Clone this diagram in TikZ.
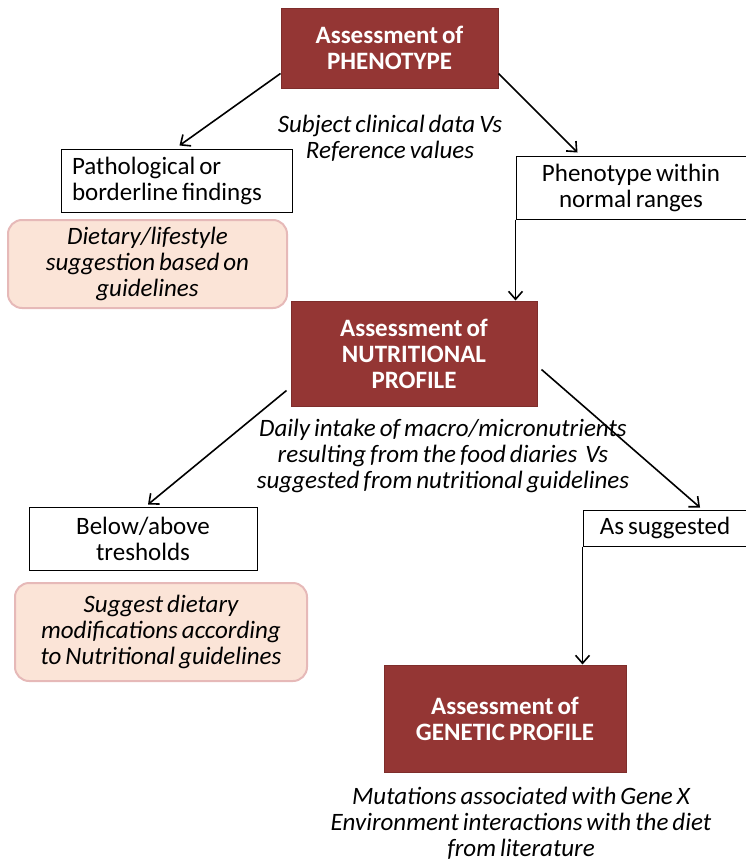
\documentclass[tikz,border=0pt]{standalone}
\usepackage{fontspec}
\setmainfont{Carlito}
\usetikzlibrary{arrows.meta,calc}

\definecolor{boxred}{HTML}{943634}
\definecolor{boxredline}{HTML}{7E2D2B}
\definecolor{peachfill}{HTML}{FBE4D7}
\definecolor{peachline}{HTML}{E6B9B8}

\newcommand{\diagfont}{\fontsize{25}{26}\selectfont\spaceskip=0.16em\relax}

\tikzset{
  assess/.style={draw=boxredline, line width=1pt, fill=boxred, text=white,
    font=\diagfont\bfseries, align=center, inner sep=0pt},
  outcome/.style={draw=black, line width=1pt, fill=white,
    font=\diagfont, align=center, inner sep=0pt},
  advice/.style={draw=peachline, line width=2pt, fill=peachfill, rounded corners=14pt,
    font=\diagfont\itshape, align=center, inner sep=0pt},
  note/.style={font=\diagfont\itshape, align=center, inner sep=0pt},
  arr/.style={-{Straight Barb[length=8pt,width=14pt]}, line width=1.6pt}
}

\begin{document}
\begin{tikzpicture}[x=1pt,y=1pt]

  \useasboundingbox (0,0) rectangle (745,-862);

  % Phenotype
  \node[assess, minimum width=217, minimum height=80] (pheno) at (389.5,-48)
    {Assessment of\\PHENOTYPE};
  \node[note] (subj) at (390,-138) {Subject clinical data Vs\\Reference values};

  \node[outcome, minimum width=231, minimum height=63, text width=209, align=flush left] (patho) at (176.5,-180.5)
    {Pathological or\\borderline findings};
  \node[advice, minimum width=279, minimum height=88] (diet) at (147.5,-264)
    {Dietary/lifestyle\\suggestion based on\\guidelines};
  \node[outcome, minimum width=230, minimum height=63] (normal) at (631,-187.5)
    {Phenotype within\\normal ranges};

  % Nutritional profile
  \node[assess, minimum width=246, minimum height=105] (nutri) at (414,-353.5)
    {Assessment of\\NUTRITIONAL\\PROFILE};
  \node[note] (daily) at (443,-456)
    {Daily intake of macro/micronutrients\\resulting from the food diaries\ \ Vs\\suggested from nutritional guidelines};

  \node[outcome, minimum width=228, minimum height=63] (below) at (143,-538.5)
    {Below/above\\tresholds};
  \node[advice, minimum width=292, minimum height=98] (modif) at (161,-632)
    {Suggest dietary\\modifications according\\to Nutritional guidelines};
  \node[outcome, minimum width=164, minimum height=36] (assug) at (665,-528)
    {As suggested};

  % Genetic profile
  \node[assess, minimum width=242, minimum height=107] (genetic) at (505,-718.5)
    {Assessment of\\GENETIC PROFILE};
  \node[note] (mut) at (521,-823)
    {Mutations associated with Gene X\\Environment interactions with the diet\\from literature};

  % Arrows
  \draw[arr] ($(pheno.south west)+(0,15)$) -- ($(patho.north)+(3,3)$);
  \draw[arr] ($(pheno.south east)+(0,15)$) -- ($(normal.north west)+(62,3)$);
  \draw[arr] (normal.south west) -- (normal.south west |- nutri.north);
  \draw[arr] ($(nutri.south west)+(-4,16)$) -- ($(below.north)+(5,2)$);
  \draw[arr] ($(nutri.south east)+(4,37)$) -- ($(assug.north)+(35,2)$);
  \draw[arr] (assug.south west) -- (assug.south west |- genetic.north);

\end{tikzpicture}
\end{document}
